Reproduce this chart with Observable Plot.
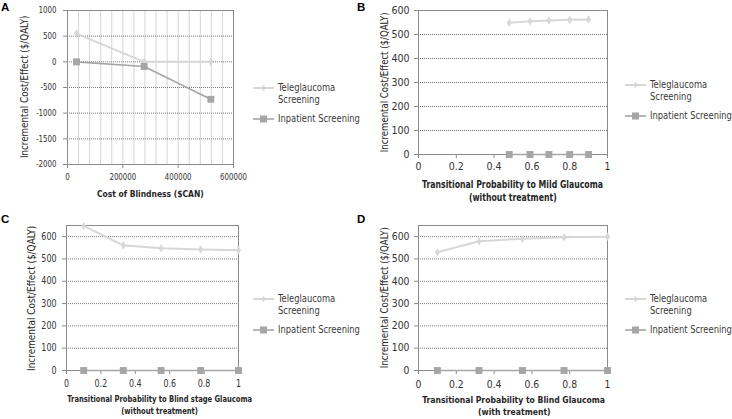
<!DOCTYPE html>
<html>
<head>
<meta charset="utf-8">
<script src="https://cdn.jsdelivr.net/npm/d3@7"></script>
<script src="https://cdn.jsdelivr.net/npm/@observablehq/plot@0.6"></script>
<style>
  html, body { margin: 0; padding: 0; background: #fff; }
  #root { position: relative; width: 732px; height: 419px; background: #fff; overflow: hidden;
    font-family: "DejaVu Sans Condensed", "Liberation Sans Narrow", "Open Sans", sans-serif; color: #333; }
  .abs { position: absolute; }
  .letter { position: absolute; font-family: "Liberation Sans", Arial, sans-serif; font-weight: bold; font-size: 11.5px; line-height: 12px; color: #000; }
  .xtitle { position: absolute; text-align: center; font-weight: bold; color: #262626; white-space: nowrap; }
  .ytitle { position: absolute; text-align: center; color: #262626; white-space: nowrap; transform-origin: 0 0; transform: rotate(-90deg); line-height: 12px; }
  .sq { display: inline-block; transform-origin: 50% 50%; }
  .legend { position: absolute; font-size: 10px; color: #3a3a3a; white-space: nowrap; }
  .legend .row { display: flex; align-items: flex-start; line-height: 12px; }
  .legend svg { flex: none; margin-right: 2px; }
  .legend .txt { display: inline-block; transform-origin: 0 50%; transform: scaleX(0.93); }
</style>
</head>
<body>
<div id="root"></div>
<script>
// ---------- data ----------
const seriesNames = ["Teleglaucoma\nScreening", "Inpatient Screening"];

const aX = [32500, 277000, 518000];
const aTele = [550, 0, 0];
const aInpt = [0, -90, -730];
const aXTicks = [0, 200000, 400000, 600000];
const aYTicks = [-2000, -1500, -1000, -500, 0, 500, 1000];

const bX = [0.48, 0.59, 0.69, 0.80, 0.90];
const bTele = [549, 555, 558, 561, 563];
const bInpt = [0, 0, 0, 0, 0];
const bYTicks = [0, 100, 200, 300, 400, 500, 600];

const cX = [0.10, 0.33, 0.55, 0.78, 1.00];
const cTele = [648, 561, 548, 542, 539];
const cInpt = [0, 0, 0, 0, 0];

const dX = [0.10, 0.32, 0.55, 0.77, 1.00];
const dTele = [530, 579, 591, 597, 600];
const dInpt = [0, 0, 0, 0, 0];

const probTicks = [0, 0.2, 0.4, 0.6, 0.8, 1];
const cdYTicks = [0, 100, 200, 300, 400, 500, 600];

const titles = {
  A: ["Cost of Blindness ($CAN)"],
  B: ["Transitional Probability to Mild Glaucoma", "(without treatment)"],
  C: ["Transitional Probability to Blind stage Glaucoma", "(without treatment)"],
  D: ["Transitional Probability to Blind Glaucoma", "(with treatment)"]
};
const yTitle = "Incremental Cost/Effect ($/QALY)";

// ---------- styling ----------
const TELE = "#d7d7d7";
const INPT = "#a6a6a6";
const FRAME = "#8a8a8a";
const FONT = '"DejaVu Sans Condensed", "Liberation Sans Narrow", "Open Sans", sans-serif';
const root = document.getElementById("root");

function squeezeTicks(svg, s) {
  if (s === 1) return;
  svg.querySelectorAll('g[aria-label$="tick label"] text').forEach(t => {
    const tr = t.getAttribute("transform");
    if (tr && tr.includes("translate")) {
      t.setAttribute("transform", tr + ` scale(${s},1)`);
    } else {
      const x = +t.getAttribute("x") || 0, y = +t.getAttribute("y") || 0;
      t.setAttribute("transform", `translate(${x},${y}) scale(${s},1) translate(${-x},${-y})`);
    }
  });
}

function panel(o) {
  const tele = o.xs.map((x, i) => ({x, y: o.tele[i]}));
  const inpt = o.xs.map((x, i) => ({x, y: o.inpt[i]}));
  const yGrid = o.yTicks.filter(v => v > o.yDomain[0] && v < o.yDomain[1]);
  const plot = Plot.plot({
    width: o.w, height: o.h,
    marginLeft: o.ml, marginRight: o.mr, marginTop: o.mt, marginBottom: o.mb,
    style: {fontFamily: FONT, fontSize: o.tickFont + "px", color: "#333", background: "transparent", overflow: "visible"},
    x: {domain: o.xDomain},
    y: {domain: o.yDomain},
    marks: [
      o.vgrid ? Plot.gridX(o.vgrid, {stroke: "#d4d4d4", strokeOpacity: 1, strokeWidth: 1}) : null,
      Plot.gridY(yGrid, {stroke: "#7a7a7a", strokeOpacity: 1, strokeDasharray: "1,1"}),
      Plot.frame({stroke: FRAME}),
      Plot.axisX(o.xTicks, {tickSize: 4, tickPadding: o.xPad, label: null, stroke: FRAME, tickFormat: d => String(d)}),
      Plot.axisY(o.yTicks, {tickSize: 4, tickPadding: o.yPad, label: null, stroke: FRAME, tickFormat: d => String(d)}),
      Plot.line(tele, {x: "x", y: "y", stroke: TELE, strokeWidth: 2}),
      Plot.dot(tele, {x: "x", y: "y", symbol: "diamond", fill: TELE, r: 2.6}),
      Plot.line(inpt, {x: "x", y: "y", stroke: INPT, strokeWidth: 1.6}),
      Plot.dot(inpt, {x: "x", y: "y", symbol: "square", fill: INPT, r: 3.9})
    ]
  });
  squeezeTicks(plot, o.tickScale);
  plot.classList.add("abs");
  plot.style.left = o.left + "px";
  plot.style.top = o.top + "px";
  root.appendChild(plot);

  // panel letter
  const L = document.createElement("div");
  L.className = "letter";
  L.textContent = o.letter;
  L.style.left = o.letterPos[0] + "px";
  L.style.top = o.letterPos[1] + "px";
  root.appendChild(L);

  // x title
  const xt = document.createElement("div");
  xt.className = "xtitle";
  xt.innerHTML = o.xTitle.map(s => `<span class="sq" style="transform:scaleX(${o.titleScale})">${s}</span>`).join("<br>");
  xt.style.fontSize = o.xTitleFont + "px";
  xt.style.lineHeight = o.xTitleLH + "px";
  const half = 150;
  xt.style.left = (o.xTitleCenter - half) + "px";
  xt.style.width = (2 * half) + "px";
  xt.style.top = o.xTitleTop + "px";
  root.appendChild(xt);

  // y title (rotated)
  const yt = document.createElement("div");
  yt.className = "ytitle";
  yt.innerHTML = `<span class="sq" style="transform:scaleX(${o.titleScale})">${yTitle}</span>`;
  yt.style.fontSize = o.yTitleFont + "px";
  const ft = o.top + o.mt, fb = o.top + o.h - o.mb;
  const len = 200;
  yt.style.width = len + "px";
  yt.style.left = (o.yTitleX - 6) + "px";
  yt.style.top = ((ft + fb) / 2 + len / 2) + "px";
  root.appendChild(yt);

  // legend
  const lg = document.createElement("div");
  lg.className = "legend";
  lg.style.left = o.legend[0] + "px";
  lg.style.top = (o.legend[1] - 6) + "px";
  const sw1 = `<svg width="23" height="12"><line x1="0" x2="21" y1="6" y2="6" stroke="${TELE}" stroke-width="2"/><path d="M10.5,3L13,6L10.5,9L8,6Z" fill="${TELE}"/></svg>`;
  const sw2 = `<svg width="23" height="12"><line x1="0" x2="21" y1="6" y2="6" stroke="${INPT}" stroke-width="1.6"/><rect x="7" y="2.5" width="7" height="7" fill="${INPT}"/></svg>`;
  const n1 = seriesNames[0].split("\n");
  lg.innerHTML =
    `<div class="row">${sw1}<div class="txt">${n1.join("<br>")}</div></div>` +
    `<div class="row" style="margin-top:7px">${sw2}<div class="txt">${seriesNames[1]}</div></div>`;
  root.appendChild(lg);
}

panel({letter: "A", letterPos: [1, 1], left: 0, top: 0, w: 250, h: 210, ml: 67, mr: 17, mt: 10, mb: 46,
  xDomain: [0, 600000], yDomain: [-2000, 1000], xTicks: aXTicks, yTicks: aYTicks,
  vgrid: d3.range(40000, 600000, 40000), tickFont: 8.7, tickScale: 0.9, xPad: 5, yPad: 7,
  xs: aX, tele: aTele, inpt: aInpt, xTitle: titles.A, xTitleFont: 9.4, titleScale: 0.9, xTitleLH: 11, xTitleCenter: 150, xTitleTop: 187.5,
  yTitleFont: 10.8, yTitleX: 25, legend: [253, 88]});

panel({letter: "B", letterPos: [357, 1], left: 370, top: 0, w: 250, h: 210, ml: 48, mr: 13, mt: 10, mb: 56,
  xDomain: [0, 1], yDomain: [0, 600], xTicks: probTicks, yTicks: bYTicks,
  tickFont: 10.5, tickScale: 1, xPad: 4, yPad: 5,
  xs: bX, tele: bTele, inpt: bInpt, xTitle: titles.B, xTitleFont: 9.6, titleScale: 0.9, xTitleLH: 13, xTitleCenter: 512.5, xTitleTop: 177.5,
  yTitleFont: 10.6, yTitleX: 384, legend: [625, 85]});

panel({letter: "C", letterPos: [1, 213], left: 0, top: 210, w: 250, h: 209, ml: 66, mr: 12, mt: 15, mb: 49,
  xDomain: [0, 1], yDomain: [0, 650], xTicks: probTicks, yTicks: cdYTicks,
  tickFont: 9.6, tickScale: 0.92, xPad: 6, yPad: 6,
  xs: cX, tele: cTele, inpt: cInpt, xTitle: titles.C, xTitleFont: 8.4, titleScale: 0.9, xTitleLH: 12.4, xTitleCenter: 160, xTitleTop: 393,
  yTitleFont: 11, yTitleX: 31.5, legend: [253, 299]});

panel({letter: "D", letterPos: [357, 213], left: 370, top: 210, w: 250, h: 209, ml: 48, mr: 13, mt: 15, mb: 49,
  xDomain: [0, 1], yDomain: [0, 650], xTicks: probTicks, yTicks: cdYTicks,
  tickFont: 10.3, tickScale: 1, xPad: 6, yPad: 5,
  xs: dX, tele: dTele, inpt: dInpt, xTitle: titles.D, xTitleFont: 9.5, titleScale: 0.9, xTitleLH: 12, xTitleCenter: 514, xTitleTop: 394,
  yTitleFont: 10.7, yTitleX: 385, legend: [625, 299]});
</script>
</body>
</html>
